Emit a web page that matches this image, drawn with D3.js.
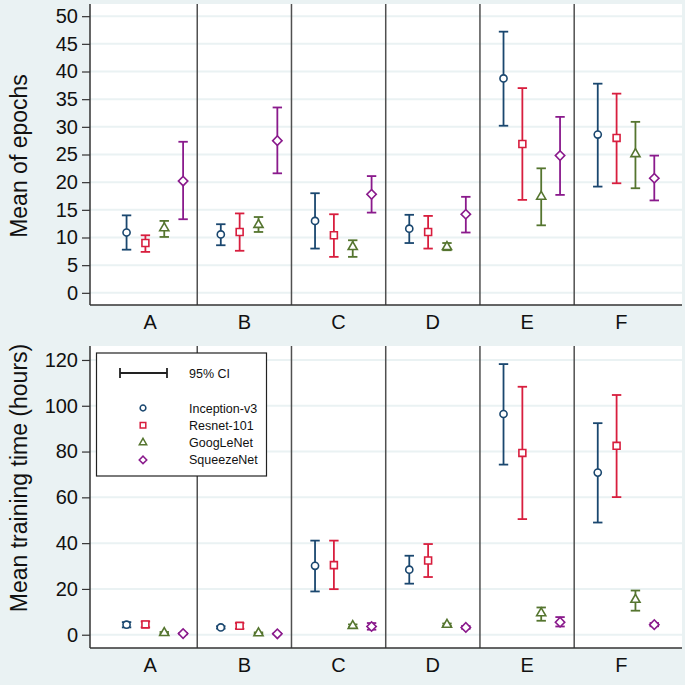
<!DOCTYPE html>
<html>
<head>
<meta charset="utf-8">
<script src="https://cdn.jsdelivr.net/npm/d3@7"></script>
<style>
  body { margin: 0; background: #eaf2f3; }
  svg { display: block; font-family: "Liberation Sans", Arial, sans-serif; }
</style>
</head>
<body>
<script>
// categories
const groups = ['A', 'B', 'C', 'D', 'E', 'F'];
const models = ['Inception-v3', 'Resnet-101', 'GoogLeNet', 'SqueezeNet'];

// mean of epochs, per model, per group (with 95% CI)
const epochMean = [
  [10.9, 10.55, 13.0, 11.6, 38.75, 28.6],
  [9.0, 11.0, 10.4, 11.0, 26.9, 28.0],
  [11.7, 12.3, 8.3, 8.3, 17.4, 25.1],
  [20.2, 27.5, 17.8, 14.2, 24.8, 20.7]
];
const epochLo = [
  [7.8, 8.6, 8.0, 9.0, 30.2, 19.2],
  [7.4, 7.6, 6.5, 8.0, 16.8, 19.8],
  [10.1, 11.0, 6.5, 7.7, 12.2, 18.9],
  [13.3, 21.6, 14.5, 10.9, 17.7, 16.7]
];
const epochHi = [
  [14.0, 12.4, 18.0, 14.1, 47.2, 37.8],
  [10.4, 14.35, 14.2, 13.9, 37.0, 36.0],
  [13.0, 13.7, 9.5, 9.0, 22.5, 30.9],
  [27.3, 33.5, 21.1, 17.35, 31.8, 24.8]
];

// mean training time in hours
const hoursMean = [
  [4.4, 3.2, 30.1, 28.4, 96.4, 70.8],
  [4.5, 3.9, 30.4, 32.4, 79.4, 82.5],
  [0.8, 0.7, 3.9, 4.4, 9.45, 15.3],
  [0.5, 0.4, 3.6, 3.2, 5.5, 4.4]
];
const hoursLo = [
  [3.2, 2.7, 18.9, 22.3, 74.3, 49.0],
  [3.2, 2.6, 19.9, 25.2, 50.5, 60.1],
  [0.4, 0.4, 3.3, 3.9, 6.1, 10.5],
  [0.2, 0.2, 2.2, 2.6, 3.6, 3.7]
];
const hoursHi = [
  [5.5, 3.7, 41.1, 34.5, 118.2, 92.4],
  [5.8, 5.1, 41.1, 39.6, 108.3, 104.7],
  [1.2, 1.0, 4.5, 4.9, 11.9, 19.3],
  [0.8, 0.6, 5.1, 3.8, 7.7, 5.1]
];

const epochTicks = d3.range(0, 51, 5);
const hoursTicks = d3.range(0, 121, 20);

// styles
const colors = ['#1a476f', '#d81e3e', '#55752f', '#8a1a8c'];
const symbols = [d3.symbolCircle, d3.symbolSquare, d3.symbolTriangle, d3.symbolSquare];
const symRotate = [0, 0, 0, 45];
const symSize = [40, 48, 36, 44];
const gridColor = '#eaf2f3';

const width = 685;
const height = 685;

const svg = d3.select('body')
  .append('svg')
    .attr('width', width)
    .attr('height', height);

svg.append('rect')
    .attr('width', width)
    .attr('height', height)
    .attr('fill', '#eaf2f3');

// x positions: 4 models per group, one empty slot between groups
const x = d3.scaleLinear()
    .domain([-0.94, 30.47])
    .range([90, 682]);

const pos = (g, m) => g * 5 + m + 1;

function drawPanel(opts) {
  const y = d3.scaleLinear()
      .domain(opts.domain)
      .range([opts.bottom, opts.top]);

  const g = svg.append('g');

  // plot region
  g.append('rect')
      .attr('x', x.range()[0])
      .attr('y', opts.top)
      .attr('width', x.range()[1] - x.range()[0])
      .attr('height', opts.bottom - opts.top)
      .attr('fill', '#fff');

  // grid
  g.selectAll('.grid')
      .data(opts.ticks)
    .enter().append('line')
      .attr('x1', x.range()[0])
      .attr('x2', x.range()[1])
      .attr('y1', (d) => y(d))
      .attr('y2', (d) => y(d))
      .attr('stroke', gridColor)
      .attr('stroke-width', 2);

  // group dividers
  g.selectAll('.div')
      .data(d3.range(5))
    .enter().append('line')
      .attr('x1', (d) => x(d * 5 + 4.75))
      .attr('x2', (d) => x(d * 5 + 4.75))
      .attr('y1', opts.top)
      .attr('y2', opts.bottom)
      .attr('stroke', '#505050')
      .attr('stroke-width', 1.5);

  // y axis
  const yAxis = d3.axisLeft(y)
      .tickValues(opts.ticks)
      .tickSize(8)
      .tickPadding(4);
  const ya = g.append('g')
      .attr('transform', `translate(${x.range()[0]},0)`)
      .call(yAxis);
  ya.select('.domain').remove();
  ya.selectAll('.tick line').attr('stroke', '#333').attr('stroke-width', 1.2);
  ya.selectAll('.tick text')
      .attr('font-size', 20)
      .attr('fill', '#111')
      .style('font-family', '"Liberation Sans", Arial, sans-serif');
  g.append('line')
      .attr('x1', x.range()[0]).attr('x2', x.range()[0])
      .attr('y1', opts.top).attr('y2', opts.bottom)
      .attr('stroke', '#333').attr('stroke-width', 1.5);

  // x axis
  g.append('line')
      .attr('x1', x.range()[0]).attr('x2', x.range()[1])
      .attr('y1', opts.bottom).attr('y2', opts.bottom)
      .attr('stroke', '#333').attr('stroke-width', 1.5);
  g.selectAll('.xlab')
      .data(groups)
    .enter().append('text')
      .attr('x', (d, i) => x(i * 5 + 2.25))
      .attr('y', opts.bottom + 24)
      .attr('text-anchor', 'middle')
      .attr('font-size', 20)
      .attr('fill', '#111')
      .text((d) => d);

  // y title
  g.append('text')
      .attr('transform', `translate(27,${opts.titleY}) rotate(-90)`)
      .attr('text-anchor', 'middle')
      .attr('font-size', 23)
      .attr('fill', '#111')
      .text(opts.title);

  // error bars + markers
  models.forEach((name, m) => {
    const s = g.append('g')
        .attr('stroke', colors[m])
        .attr('fill', 'none');
    groups.forEach((grp, i) => {
      const cx = x(pos(i, m));
      const lo = y(opts.lo[m][i]);
      const hi = y(opts.hi[m][i]);
      s.append('line')
          .attr('x1', cx).attr('x2', cx)
          .attr('y1', lo).attr('y2', hi)
          .attr('stroke-width', 1.8);
      [lo, hi].forEach((yy) => {
        s.append('line')
            .attr('x1', cx - 4.7).attr('x2', cx + 4.7)
            .attr('y1', yy).attr('y2', yy)
            .attr('stroke-width', 1.8);
      });
      s.append('path')
          .attr('d', d3.symbol(symbols[m], symSize[m])())
          .attr('transform', `translate(${cx},${y(opts.mean[m][i])}) rotate(${symRotate[m]})`)
          .attr('fill', '#fff')
          .attr('stroke-width', 1.6);
    });
  });

  return g;
}

drawPanel({
  top: 4, bottom: 305,
  domain: [-2.2, 52.2],
  ticks: epochTicks,
  title: 'Mean of epochs',
  titleY: 156,
  mean: epochMean, lo: epochLo, hi: epochHi
});

drawPanel({
  top: 346, bottom: 648,
  domain: [-5.8, 126.1],
  ticks: hoursTicks,
  title: 'Mean training time (hours)',
  titleY: 478,
  mean: hoursMean, lo: hoursLo, hi: hoursHi
});

// Legend
const legend = svg.append('g');
legend.append('rect')
    .attr('x', 96.5)
    .attr('y', 353)
    .attr('width', 170)
    .attr('height', 123)
    .attr('fill', '#fff')
    .attr('stroke', '#222')
    .attr('stroke-width', 1.2);

legend.append('line')
    .attr('x1', 120).attr('x2', 167)
    .attr('y1', 373).attr('y2', 373)
    .attr('stroke', '#222').attr('stroke-width', 1.8);
[120, 167].forEach((lx) => {
  legend.append('line')
      .attr('x1', lx).attr('x2', lx)
      .attr('y1', 368).attr('y2', 378)
      .attr('stroke', '#222').attr('stroke-width', 1.8);
});
legend.append('text')
    .attr('x', 189)
    .attr('y', 377.5)
    .attr('font-size', 12.5)
    .attr('fill', '#111')
    .text('95% CI');

const items = legend.selectAll('.item')
    .data(models)
  .enter().append('g')
    .attr('transform', (d, i) => `translate(0,${408 + i * 17.3})`);
items.append('path')
    .attr('d', (d, i) => d3.symbol(symbols[i], symSize[i] * 0.65)())
    .attr('transform', (d, i) => `translate(143,0) rotate(${symRotate[i]})`)
    .attr('fill', '#fff')
    .attr('stroke', (d, i) => colors[i])
    .attr('stroke-width', 1.5);
items.append('text')
    .attr('x', 189)
    .attr('y', 4.5)
    .attr('font-size', 12.5)
    .attr('fill', '#111')
    .text((d) => d);
</script>
</body>
</html>
